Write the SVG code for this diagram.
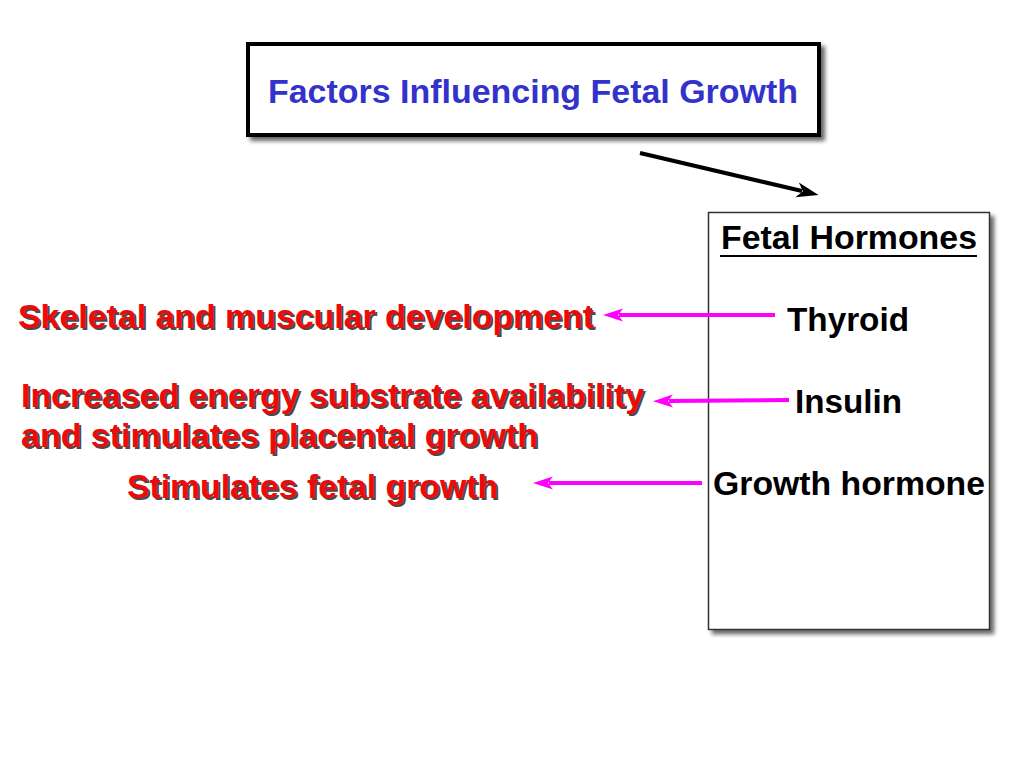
<svg xmlns="http://www.w3.org/2000/svg" width="1024" height="768" viewBox="0 0 1024 768">
<style>
  .t { font-family: "Liberation Sans", Arial, Helvetica, sans-serif; font-weight: bold; font-size: 34px; }
  .title { fill: #3333cc; }
  .red { fill: #ee0a0a; }
  .redsh { fill: #4a4a4a; }
  .blk { fill: #000000; }
  .pink { stroke: #ff00ff; stroke-width: 4; fill: none; }
</style>
<defs>
  <filter id="sh" x="-10%" y="-10%" width="130%" height="130%">
    <feGaussianBlur in="SourceAlpha" stdDeviation="2"/>
    <feOffset dx="4" dy="4" result="b"/>
    <feComponentTransfer><feFuncA type="linear" slope="0.6"/></feComponentTransfer>
    <feMerge><feMergeNode/><feMergeNode in="SourceGraphic"/></feMerge>
  </filter>
  <marker id="pinkHead" viewBox="0 0 20 14" refX="4" refY="7" markerWidth="20" markerHeight="14" markerUnits="userSpaceOnUse" orient="auto">
    <path d="M20,7 L0,0.5 L5,7 L0,13.5 Z" fill="#ff00ff"/>
  </marker>
  <marker id="blackHead" viewBox="0 0 22 16" refX="5" refY="8" markerWidth="22" markerHeight="16" markerUnits="userSpaceOnUse" orient="auto">
    <path d="M22,8 L0,0.5 L6,8 L0,15.5 Z" fill="#000000"/>
  </marker>
</defs>
<rect width="1024" height="768" fill="#ffffff"/>

<g id="title-node">
  <rect x="248" y="44" width="571" height="91" fill="#ffffff" stroke="#000000" stroke-width="4" filter="url(#sh)"/>
  <text class="t title" x="268" y="103" textLength="530" lengthAdjust="spacingAndGlyphs">Factors Influencing Fetal Growth</text>
</g>

<g id="hormones-node">
  <rect x="708.5" y="212.5" width="281" height="417" fill="#ffffff" stroke="#333333" stroke-width="1.5" filter="url(#sh)"/>
  <text class="t blk" x="721" y="249" textLength="256" lengthAdjust="spacingAndGlyphs">Fetal Hormones</text>
  <line x1="720" y1="256" x2="977" y2="256" stroke="#000000" stroke-width="2"/>
  <text class="t blk" x="787" y="331" textLength="122" lengthAdjust="spacingAndGlyphs">Thyroid</text>
  <text class="t blk" x="795" y="413" textLength="107" lengthAdjust="spacingAndGlyphs">Insulin</text>
  <text class="t blk" x="713" y="495" textLength="272" lengthAdjust="spacingAndGlyphs">Growth hormone</text>
</g>

<g id="effect-skeletal">
  <text class="t redsh" x="20" y="330" textLength="576" lengthAdjust="spacingAndGlyphs">Skeletal and muscular development</text>
  <text class="t red" x="18" y="328" textLength="576" lengthAdjust="spacingAndGlyphs">Skeletal and muscular development</text>
</g>
<g id="effect-energy">
  <text class="t redsh" x="23" y="409" textLength="623" lengthAdjust="spacingAndGlyphs">Increased energy substrate availability</text>
  <text class="t red" x="21" y="407" textLength="623" lengthAdjust="spacingAndGlyphs">Increased energy substrate availability</text>
  <text class="t redsh" x="23" y="449" textLength="517" lengthAdjust="spacingAndGlyphs">and stimulates placental growth</text>
  <text class="t red" x="21" y="447" textLength="517" lengthAdjust="spacingAndGlyphs">and stimulates placental growth</text>
</g>
<g id="effect-growth">
  <text class="t redsh" x="129" y="500" textLength="371" lengthAdjust="spacingAndGlyphs">Stimulates fetal growth</text>
  <text class="t red" x="127" y="498" textLength="371" lengthAdjust="spacingAndGlyphs">Stimulates fetal growth</text>
</g>

<g id="connectors">
  <line x1="640" y1="153" x2="802" y2="191" stroke="#000000" stroke-width="4" marker-end="url(#blackHead)"/>
  <line class="pink" x1="775" y1="315" x2="619" y2="315" marker-end="url(#pinkHead)"/>
  <line class="pink" x1="789" y1="400" x2="669" y2="401" marker-end="url(#pinkHead)"/>
  <line class="pink" x1="702" y1="483" x2="549" y2="483" marker-end="url(#pinkHead)"/>
</g>
</svg>
